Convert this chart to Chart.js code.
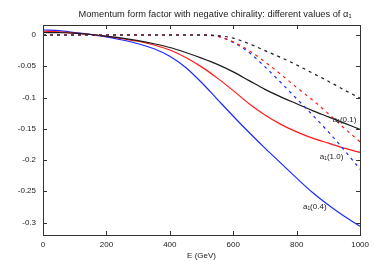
<!DOCTYPE html>
<html><head><meta charset="utf-8">
<script src="https://cdn.jsdelivr.net/npm/chart.js@4/dist/chart.umd.min.js"></script>
<style>html,body{margin:0;padding:0;background:#fff}#wrap{width:374px;height:262px}</style>
</head><body><div id="wrap"><canvas id="c" width="374" height="262"></canvas></div>
<script>
const energies = [0,50,100,150,200,250,300,350,400,450,500,550,600,650,700,750,800,850,900,950,1000];
const solidA01 = [0.004,0.0037,0.003,0.0008,-0.002,-0.005,-0.009,-0.014,-0.020,-0.028,-0.037,-0.047,-0.059,-0.073,-0.087,-0.099,-0.110,-0.121,-0.131,-0.141,-0.151];
const solidA10 = [0.006,0.005,0.003,0.0008,-0.002,-0.006,-0.010,-0.016,-0.024,-0.036,-0.051,-0.069,-0.089,-0.110,-0.128,-0.143,-0.155,-0.165,-0.173,-0.181,-0.188];
const solidA04 = [0.008,0.007,0.004,0.001,-0.003,-0.008,-0.014,-0.022,-0.034,-0.052,-0.076,-0.103,-0.130,-0.156,-0.181,-0.205,-0.229,-0.252,-0.272,-0.290,-0.306];
const dashedA01 = [0,0,0,0,0,0,0,0,0,0,0,-0.001,-0.005,-0.014,-0.025,-0.036,-0.048,-0.061,-0.074,-0.088,-0.101];
const dashedA10 = [0,0,0,0,0,0,0,0,0,0,0,-0.002,-0.011,-0.025,-0.043,-0.063,-0.084,-0.104,-0.126,-0.149,-0.171];
const dashedA04 = [0,0,0,0,0,0,0,0,0,0,0,-0.002,-0.012,-0.028,-0.051,-0.076,-0.102,-0.128,-0.155,-0.184,-0.215];
const xTicks = [0,200,400,600,800,1000];
const yTicks = [0,-0.05,-0.1,-0.15,-0.2,-0.25,-0.3];
const curveLabels = ["a\u2081(0.1)","a\u2081(1.0)","a\u2081(0.4)"];
const labelE = [951,910,857];
const labelV = [-0.136,-0.195,-0.275];
const chartTitle = 'Momentum form factor with negative chirality: different values of \u03b1\u2081';

const FONT = "'Liberation Sans', Arial, sans-serif";
const pts = arr => energies.map((e,i)=>({x:e,y:arr[i]}));
function ds(arr,color,dash){
  return {data:pts(arr),borderColor:color,borderWidth:1.2,borderDash:dash||[],pointRadius:0,fill:false,cubicInterpolationMode:'monotone'};
}
const BLACK='#1a1a1a', RED='#ff1a1a', BLUE='#1a2aff';

const framePlugin = {
  id:'frame',
  afterDatasetsDraw(chart){
    const {ctx, chartArea:a, scales:{x,y}} = chart;
    ctx.save();
    ctx.strokeStyle='#333'; ctx.lineWidth=1;
    ctx.strokeRect(Math.round(a.left)+0.5, Math.round(a.top)+0.5, Math.round(a.right-a.left), Math.round(a.bottom-a.top));
    const L=4;
    ctx.beginPath();
    x.ticks.forEach(t=>{const px=Math.round(x.getPixelForValue(t.value))+0.5;
      ctx.moveTo(px,a.bottom); ctx.lineTo(px,a.bottom-L);
      ctx.moveTo(px,a.top); ctx.lineTo(px,a.top+L);});
    y.ticks.forEach(t=>{const py=Math.round(y.getPixelForValue(t.value))+0.5;
      ctx.moveTo(a.left,py); ctx.lineTo(a.left+L,py);
      ctx.moveTo(a.right,py); ctx.lineTo(a.right-L,py);});
    ctx.stroke();
    ctx.fillStyle='#222'; ctx.font='8px '+FONT; ctx.textAlign='center'; ctx.textBaseline='middle';
    curveLabels.forEach((s,i)=>ctx.fillText(s, x.getPixelForValue(labelE[i]), y.getPixelForValue(labelV[i])));
    ctx.font='8px '+FONT;
    const w = ctx.measureText(chartTitle).width;
    const fs = Math.min(10, 8*273/w);
    ctx.font=fs.toFixed(2)+'px '+FONT;
    ctx.fillText(chartTitle, 215, 14);
    ctx.restore();
  }
};

new Chart(document.getElementById('c'),{
  type:'line',
  data:{datasets:[
    ds(dashedA01,BLACK,[3,4]),
    ds(dashedA10,RED,[3,4]),
    ds(dashedA04,BLUE,[3,4]),
    ds(solidA01,BLACK),
    ds(solidA10,RED),
    ds(solidA04,BLUE)
  ]},
  options:{
    responsive:false, animation:false, devicePixelRatio:1,
    layout:{padding:{left:0,right:13,top:25,bottom:0}},
    plugins:{legend:{display:false}, tooltip:{enabled:false}, title:{display:false}},
    scales:{
      x:{type:'linear',min:0,max:1000,
        afterBuildTicks:s=>{s.ticks=xTicks.map(v=>({value:v}));},
        grid:{display:false,drawTicks:false},border:{display:false},
        ticks:{color:'#222',font:{family:FONT,size:8},padding:5,maxRotation:0,callback:v=>String(v)},
        title:{display:true,text:'E (GeV)',color:'#222',font:{family:FONT,size:8},padding:{top:0,bottom:1}},
        afterFit:s=>{s.height=27;}
      },
      y:{type:'linear',min:-0.32,max:0.016,
        afterBuildTicks:s=>{s.ticks=yTicks.map(v=>({value:v}));},
        grid:{display:false,drawTicks:false},border:{display:false},
        ticks:{color:'#222',font:{family:FONT,size:8},padding:7,callback:v=>String(+v.toFixed(2))},
        afterFit:s=>{s.width=43;}
      }
    }
  },
  plugins:[framePlugin]
});
</script></body></html>
